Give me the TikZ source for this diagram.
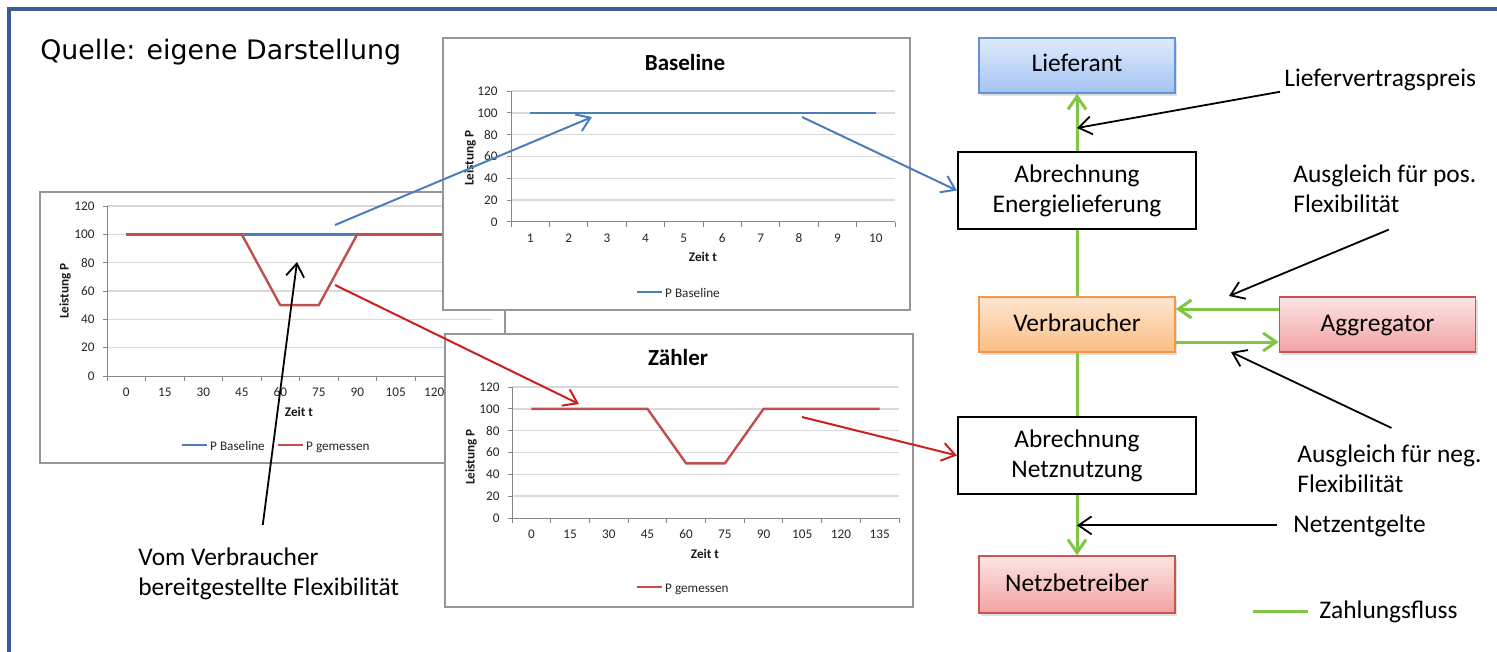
\documentclass[tikz,border=0pt]{standalone}
\usepackage{fontspec}
\setmainfont{Carlito}
\newfontfamily\quellefont{DejaVu Sans}
\usepackage{tikz}
\usetikzlibrary{arrows.meta}
\usetikzlibrary{shadows}

\definecolor{rahmenblau}{RGB}{59,93,145}
\definecolor{linienblau}{RGB}{74,126,187}
\definecolor{linienrot}{RGB}{192,80,77}
\definecolor{pfeilrot}{RGB}{204,32,32}
\definecolor{zahlgruen}{RGB}{128,198,70}
\definecolor{gitter}{RGB}{217,217,217}
\definecolor{achse}{RGB}{134,134,134}
\definecolor{diagrand}{RGB}{150,150,150}

\begin{document}
\begin{tikzpicture}
\tikzset{x=0.5pt, y=-0.5pt}
\tikzset{spitze/.style={-{Straight Barb[length=6.5pt,width=9pt]}}}
\tikzset{diagrahmen/.style={draw=diagrand, fill=white, line width=0.7pt}}
\tikzset{gitterlinie/.style={draw=gitter, line width=0.75pt}}
\tikzset{achslinie/.style={draw=achse, line width=0.5pt}}
\tikzset{diagtext/.style={font=\fontsize{6.6}{7.5}\selectfont, text=black!85, inner sep=0pt}}
\tikzset{diagfett/.style={font=\fontsize{6.6}{7.5}\selectfont\bfseries, text=black!90, inner sep=0pt}}
\tikzset{legendtext/.style={diagtext, anchor=west, xshift=1pt, text height=0.7em, text depth=0.2em}}
\tikzset{diagtitel/.style={font=\fontsize{11.5}{13}\selectfont\bfseries, inner sep=0pt}}
\tikzset{datenblau/.style={draw=linienblau, line width=1.2pt, line join=round}}
\tikzset{datenrot/.style={draw=linienrot, line width=1.2pt, line join=round}}
\tikzset{verbindungblau/.style={draw=linienblau, line width=1pt, spitze}}
\tikzset{verbindungrot/.style={draw=pfeilrot, line width=1pt, spitze}}
\tikzset{kasten/.style={minimum width=98pt, minimum height=27.5pt, align=center, font=\fontsize{12.7}{15}\selectfont}}
\tikzset{farbkasten/.style={kasten, line width=0.8pt, text height=0.85em, text depth=0.2em, drop shadow={opacity=0.25, shadow xshift=1pt, shadow yshift=-1.5pt}}}
\tikzset{lieferstil/.style={farbkasten, draw={rgb,255:red,100;green,145;blue,215}, top color={rgb,255:red,222;green,234;blue,252}, bottom color={rgb,255:red,164;green,195;blue,242}}}
\tikzset{verbraucherstil/.style={farbkasten, draw={rgb,255:red,247;green,150;blue,70}, top color={rgb,255:red,253;green,230;blue,208}, bottom color={rgb,255:red,251;green,190;blue,132}}}
\tikzset{rotstil/.style={farbkasten, draw={rgb,255:red,200;green,85;blue,80}, top color={rgb,255:red,252;green,228;blue,228}, bottom color={rgb,255:red,242;green,162;blue,162}}}
\tikzset{abrechnung/.style={kasten, draw=black, fill=white, line width=1.1pt, minimum width=119pt, minimum height=38.5pt}}
\tikzset{zahlung/.style={draw=zahlgruen, line width=1.5pt}}
\tikzset{hinweis/.style={font=\fontsize{12.7}{15}\selectfont, inner sep=0pt}}
\tikzset{hinweispfeil/.style={draw=black, line width=0.9pt, spitze}}
\useasboundingbox (0,0) rectangle (1497,652);
\draw[rahmenblau, line width=1.75pt] (1497,9) -- (9,9) -- (9,652);
\node[anchor=base west, font=\quellefont\fontsize{13.4}{16}\selectfont, inner sep=0pt] (quelle) at (40,60) {Quelle: eigene Darstellung};

\draw[diagrahmen] (40,192) rectangle (505,463);
\begin{scope}[shift={(107,376)}, x=19.25pt, y=0.7083pt]
\foreach \w in {20,40,...,120} \draw[gitterlinie] (0,\w) -- (10,\w);
\draw[achslinie] (0,120) -- (0,0) -- (10,0);
\foreach \w in {0,20,...,120} \draw[achslinie] (0,\w) -- ++(-2pt,0) node[diagtext, anchor=east, xshift=-4pt] (ay\w) {\w};
\foreach \i in {0,...,10} \draw[achslinie] (\i,0) -- ++(0,-2.5pt);
\foreach \t [count=\i from 0] in {0,15,...,120} \node[diagtext, yshift=-8pt] (ax\i) at (\i+0.5,0) {\t};
\draw[datenblau] (0.5,100) -- (9.5,100);
\draw[datenrot] (0.5,100) -- (3.5,100) -- (4.5,50) -- (5.5,50) -- (6.5,100) -- (9.5,100);
\end{scope}
\node[diagfett, rotate=90] (aleistung) at (65,291) {Leistung P};
\node[diagfett] (azeit) at (299,412) {Zeit t};
\draw[datenblau] (182,445) -- (207,445) node[legendtext] (alegblau) {P Baseline};
\draw[datenrot] (278,445) -- (303,445) node[legendtext] (alegrot) {P gemessen};

\draw[diagrahmen] (443,38) rectangle (910,310);
\node[diagtitel] (btitel) at (685,63) {Baseline};
\begin{scope}[shift={(511,222)}, x=19.2pt, y=0.5458pt]
\foreach \w in {20,40,...,120} \draw[gitterlinie] (0,\w) -- (10,\w);
\draw[achslinie] (0,120) -- (0,0) -- (10,0);
\foreach \w in {0,20,...,120} \draw[achslinie] (0,\w) -- ++(-2pt,0) node[diagtext, anchor=east, xshift=-4.5pt] (by\w) {\w};
\foreach \i in {0,...,10} \draw[achslinie] (\i,0) -- ++(0,-2.5pt);
\foreach \t [count=\i from 0] in {1,...,10} \node[diagtext, yshift=-8pt] (bx\i) at (\i+0.5,0) {\t};
\draw[datenblau] (0.5,100) -- (9.5,100);
\end{scope}
\node[diagfett, rotate=90] (bleistung) at (470,158) {Leistung P};
\node[diagfett] (bzeit) at (703,257) {Zeit t};
\draw[datenblau] (637,292) -- (662,292) node[legendtext] (blegende) {P Baseline};

\draw[diagrahmen] (445,334) rectangle (913,607);
\node[diagtitel] (ctitel) at (678,358) {Zähler};
\begin{scope}[shift={(512,518)}, x=19.35pt, y=0.5458pt]
\foreach \w in {20,40,...,120} \draw[gitterlinie] (0,\w) -- (10,\w);
\draw[achslinie] (0,120) -- (0,0) -- (10,0);
\foreach \w in {0,20,...,120} \draw[achslinie] (0,\w) -- ++(-2pt,0) node[diagtext, anchor=east, xshift=-4pt] (cy\w) {\w};
\foreach \i in {0,...,10} \draw[achslinie] (\i,0) -- ++(0,-2.5pt);
\foreach \t [count=\i from 0] in {0,15,...,135} \node[diagtext, yshift=-8pt] (cx\i) at (\i+0.5,0) {\t};
\draw[datenrot] (0.5,100) -- (3.5,100) -- (4.5,50) -- (5.5,50) -- (6.5,100) -- (9.5,100);
\end{scope}
\node[diagfett, rotate=90] (cleistung) at (471,457) {Leistung P};
\node[diagfett] (czeit) at (705,554) {Zeit t};
\draw[datenrot] (637,587) -- (662,587) node[legendtext] (clegende) {P gemessen};

\node[lieferstil] (lieferant) at (1077,65.5) {Lieferant};
\node[abrechnung] (abrenergie) at (1077,190.5) {Abrechnung\\Energielieferung};
\node[verbraucherstil] (verbraucher) at (1077,324.5) {Verbraucher};
\node[rotstil] (aggregator) at (1377.5,324.5) {Aggregator};
\node[abrechnung] (abrnetz) at (1077,455.5) {Abrechnung\\Netznutzung};
\node[rotstil, minimum height=28.5pt] (netzbetreiber) at (1077,584.5) {Netzbetreiber};

\draw[zahlung, spitze] (abrenergie) -- (lieferant);
\draw[zahlung] (verbraucher) -- (abrenergie);
\draw[zahlung] (verbraucher) -- (abrnetz);
\draw[zahlung, spitze] (abrnetz) -- (netzbetreiber);
\draw[zahlung, spitze] ([yshift=7.75pt]aggregator.west) -- ([yshift=7.75pt]verbraucher.east);
\draw[zahlung, spitze] ([yshift=-8.75pt]verbraucher.east) -- ([yshift=-8.75pt]aggregator.west);

\node[hinweis, anchor=base west] (preis) at (1284,87) {Liefervertragspreis};
\node[hinweis, anchor=base west, align=left] (ausgleichpos) at (1293,213) {Ausgleich für pos.\\Flexibilität};
\node[hinweis, anchor=base west, align=left] (ausgleichneg) at (1297,492) {Ausgleich für neg.\\Flexibilität};
\node[hinweis, anchor=base west] (netzentgelte) at (1293,532) {Netzentgelte};
\node[hinweis, anchor=base west, align=left] (flexibilitaet) at (138,595) {Vom Verbraucher\\bereitgestellte Flexibilität};
\node[hinweis, anchor=base west] (legende) at (1319,618) {Zahlungsfluss};
\draw[zahlung] (1253,611) -- (1308,611);

\coordinate (preispunkt) at (1077,128);
\coordinate (pospunkt) at (1229,296);
\coordinate (negpunkt) at (1231,352);
\draw[hinweispfeil] ([xshift=-2pt]preis.south west) -- (preispunkt);
\draw[hinweispfeil] ([xshift=2pt,yshift=-8pt]ausgleichpos.south) -- (pospunkt);
\draw[hinweispfeil] ([xshift=1pt,yshift=8pt]ausgleichneg.north) -- (negpunkt);
\draw[hinweispfeil] ([xshift=-8pt]netzentgelte.west) -- (abrnetz.south |- netzentgelte.west);

\coordinate (flexpunkt) at (297,262);
\coordinate (baselineab) at (335,225);
\coordinate (baselinean) at (592,117);
\coordinate (baselineaus) at (802,117);
\coordinate (zaehlerab) at (335,285);
\coordinate (zaehleran) at (579,404);
\coordinate (zaehleraus) at (802,417);
\draw[hinweispfeil] ([xshift=-3pt,yshift=11pt]flexibilitaet.north) -- (flexpunkt);
\draw[verbindungblau] (baselineab) -- (baselinean);
\draw[verbindungblau] (baselineaus) -- (abrenergie.west);
\draw[verbindungrot] (zaehlerab) -- (zaehleran);
\draw[verbindungrot] (zaehleraus) -- (abrnetz.west);
\end{tikzpicture}
\end{document}
